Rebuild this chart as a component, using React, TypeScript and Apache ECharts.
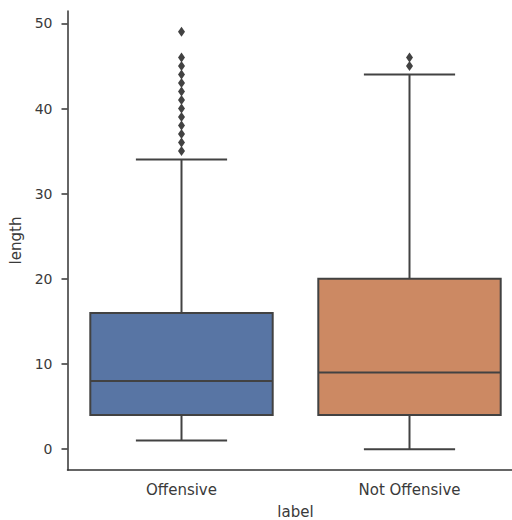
import React, { useEffect, useRef } from 'react';
import * as echarts from 'echarts';

const categories = ['Offensive', 'Not Offensive'];
const whiskerLow = [1, 0];
const quartile1 = [4, 4];
const medians = [8, 9];
const quartile3 = [16, 20];
const whiskerHigh = [34, 44];
const boxColors = ['#5875a4', '#cc8963'];
const outliersOffensive = [35, 36, 37, 38, 39, 40, 41, 42, 43, 44, 45, 46, 49];
const outliersNotOffensive = [45, 46];
const yTicks = [0, 10, 20, 30, 40, 50];

const LINE = '#424242';
const TEXT = '#3a3a3a';
const FONT = 'DejaVu Sans';

export default function App() {
  const ref = useRef<HTMLDivElement>(null);
  useEffect(() => {
    if (!ref.current) return;
    document.body.style.margin = '0';
    const chart = echarts.init(ref.current, undefined, { renderer: 'svg' });
    const boxData = categories.map((_, i) => [i, whiskerLow[i], quartile1[i], medians[i], quartile3[i], whiskerHigh[i]]);
    const outlierData: number[][] = [];
    outliersOffensive.forEach((v) => outlierData.push([0, v]));
    outliersNotOffensive.forEach((v) => outlierData.push([1, v]));

    chart.setOption({
      animation: false,
      textStyle: { fontFamily: FONT },
      grid: { left: 67.5, top: 11, width: 456, height: 459, containLabel: false, outerBoundsMode: 'none' },
      xAxis: {
        type: 'category',
        data: categories,
        boundaryGap: true,
        name: 'label',
        nameLocation: 'middle',
        nameGap: 34,
        nameTextStyle: { color: TEXT, fontSize: 15, fontFamily: FONT },
        axisLine: { onZero: false, lineStyle: { color: '#333', width: 1.5 } },
        axisTick: { alignWithLabel: true, length: 6, lineStyle: { color: '#333', width: 1.5 } },
        axisLabel: { color: TEXT, fontSize: 15, fontFamily: FONT, margin: 12 },
        splitLine: { show: false },
      },
      yAxis: {
        type: 'value',
        min: -2.45,
        max: 51.45,
        name: 'length',
        nameLocation: 'middle',
        nameGap: 37,
        nameRotate: 90,
        nameTextStyle: { color: TEXT, fontSize: 15, fontFamily: FONT },
        axisLine: { show: true, onZero: false, lineStyle: { color: '#333', width: 1.5 } },
        axisTick: { show: true, length: 6, customValues: yTicks, lineStyle: { color: '#333', width: 1.5 } },
        axisLabel: { color: TEXT, fontSize: 14, fontFamily: FONT, margin: 15, customValues: yTicks },
        splitLine: { show: false },
      },
      series: [
        {
          type: 'custom',
          data: boxData,
          encode: { x: 0, y: [1, 2, 3, 4, 5] },
          renderItem: (params: any, api: any) => {
            const i = api.value(0);
            const lo = api.value(1);
            const q1 = api.value(2);
            const med = api.value(3);
            const q3 = api.value(4);
            const hi = api.value(5);
            const cx = api.coord([i, med])[0];
            const band = api.size([1, 0])[0];
            const bw = band * 0.8;
            const cw = bw / 2;
            const yLo = api.coord([i, lo])[1];
            const yQ1 = api.coord([i, q1])[1];
            const yMed = api.coord([i, med])[1];
            const yQ3 = api.coord([i, q3])[1];
            const yHi = api.coord([i, hi])[1];
            const ls = { stroke: LINE, lineWidth: 2 };
            return {
              type: 'group',
              children: [
                { type: 'line', shape: { x1: cx, y1: yQ1, x2: cx, y2: yLo }, style: ls },
                { type: 'line', shape: { x1: cx, y1: yQ3, x2: cx, y2: yHi }, style: ls },
                { type: 'line', shape: { x1: cx - cw / 2, y1: yLo, x2: cx + cw / 2, y2: yLo }, style: ls },
                { type: 'line', shape: { x1: cx - cw / 2, y1: yHi, x2: cx + cw / 2, y2: yHi }, style: ls },
                {
                  type: 'rect',
                  shape: { x: cx - bw / 2, y: yQ3, width: bw, height: yQ1 - yQ3 },
                  style: { fill: boxColors[i], stroke: LINE, lineWidth: 2 },
                },
                { type: 'line', shape: { x1: cx - bw / 2, y1: yMed, x2: cx + bw / 2, y2: yMed }, style: ls },
              ],
            };
          },
          z: 2,
        },
        {
          type: 'scatter',
          data: outlierData,
          symbol: 'diamond',
          symbolSize: [7, 10],
          itemStyle: { color: LINE, opacity: 1 },
          z: 3,
        },
      ],
    });
    return () => chart.dispose();
  }, []);
  return <div ref={ref} style={{ width: 512, height: 520 }} />;
}
